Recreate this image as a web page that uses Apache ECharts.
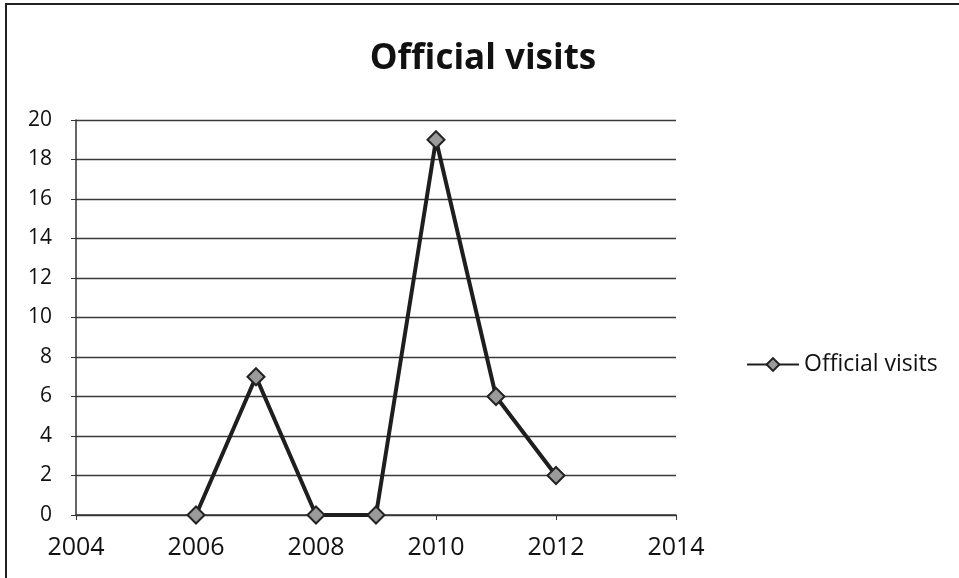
<!DOCTYPE html>
<html>
<head>
<meta charset="utf-8">
<script src="https://cdn.jsdelivr.net/npm/echarts@6/dist/echarts.min.js"></script>
<style>
  html, body { margin: 0; padding: 0; background: #fff; }
  #chart { width: 959px; height: 578px; }
</style>
</head>
<body>
<div id="chart"></div>
<script>
// Official visits per year
const years = [2006, 2007, 2008, 2009, 2010, 2011, 2012];
const visits = [0, 7, 0, 0, 19, 6, 2];
const seriesName = 'Official visits';
const titleText = 'Official visits';

const chart = echarts.init(document.getElementById('chart'));
const font = '"Open Sans", "DejaVu Sans", sans-serif';

chart.setOption({
  animation: false,
  backgroundColor: '#ffffff',
  title: {
    text: titleText,
    left: 478,
    textAlign: 'center',
    top: 37,
    textStyle: { fontFamily: font, fontSize: 35, fontWeight: 'bold', color: '#111' }
  },
  legend: {
    left: 741,
    top: 348,
    itemWidth: 52,
    itemHeight: 16,
    itemGap: 4,
    textStyle: { fontFamily: font, fontSize: 23, color: '#111' },
    data: [seriesName]
  },
  grid: { left: 76, right: 283, top: 120, bottom: 63 },
  xAxis: {
    type: 'value',
    min: 2004,
    max: 2014,
    interval: 2,
    axisLine: { lineStyle: { color: '#333', width: 1.5 } },
    axisTick: { show: true, length: 5, inside: false, lineStyle: { color: '#333' } },
    splitLine: { show: false },
    axisLabel: {
      fontFamily: font, fontSize: 25, color: '#111', margin: 20,
      formatter: v => String(v)
    }
  },
  yAxis: {
    type: 'value',
    min: 0,
    max: 20,
    interval: 2,
    axisLine: { show: true, lineStyle: { color: '#333', width: 1.5 } },
    axisTick: { show: true, length: 5, lineStyle: { color: '#333' } },
    splitLine: { show: true, lineStyle: { color: '#3a3a3a', width: 1.4 } },
    axisLabel: { fontFamily: font, fontSize: 21, color: '#111', margin: 24 }
  },
  series: [{
    name: seriesName,
    type: 'line',
    data: years.map((y, i) => [y, visits[i]]),
    symbol: 'diamond',
    symbolSize: 17,
    lineStyle: { color: '#1e1e1e', width: 4 },
    itemStyle: { color: '#9a9a9a', borderColor: '#222', borderWidth: 2 }
  }],
  graphic: [{
    type: 'rect',
    shape: { x: 6, y: 4, width: 960, height: 590 },
    style: { fill: 'none', stroke: '#222', lineWidth: 2 },
    silent: true
  }]
});
</script>
</body>
</html>
